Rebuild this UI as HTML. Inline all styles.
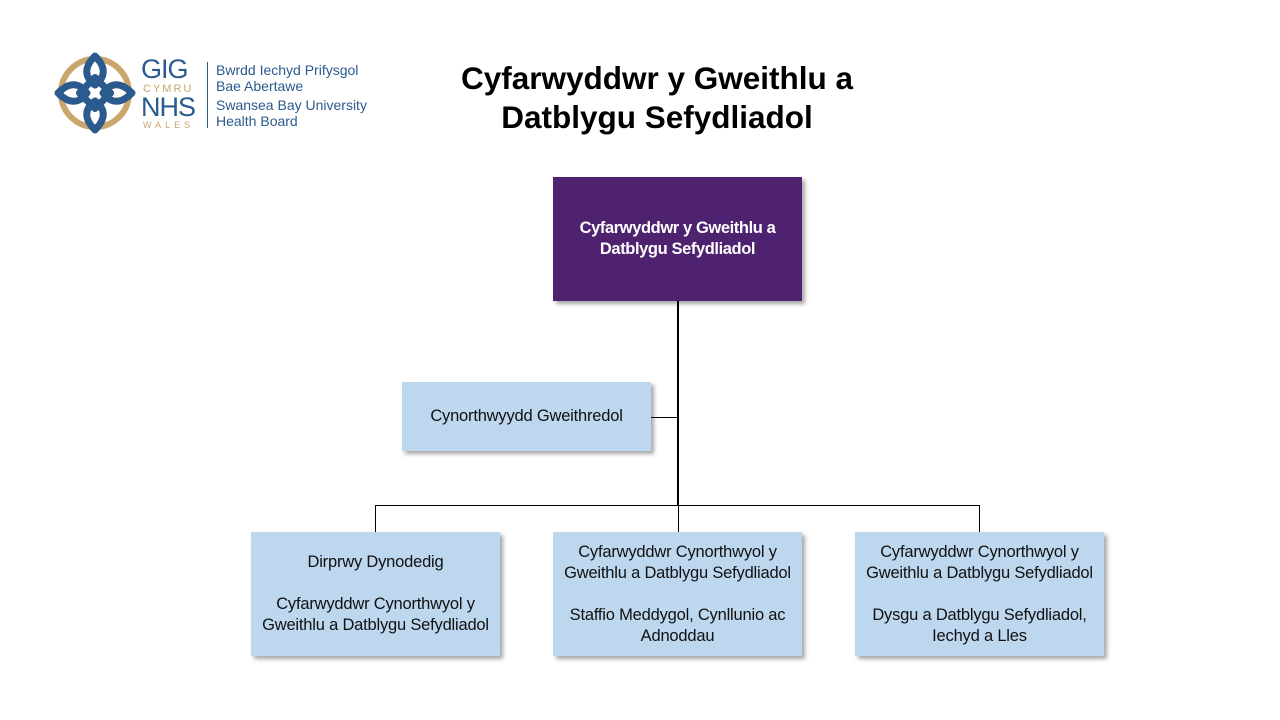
<!DOCTYPE html>
<html><head><meta charset="utf-8"><style>
body{margin:0;width:1280px;height:720px;background:#fff;position:relative;overflow:hidden;font-family:"Liberation Sans",Arial,sans-serif}
.b{position:absolute;display:flex;align-items:center;justify-content:center;text-align:center;box-shadow:3px 3px 4px rgba(0,0,0,.35);font-size:16.5px;line-height:21px;color:#111;letter-spacing:-0.2px}
.lb{background:#bdd7ee}
.l{position:absolute;background:#000}
.title{position:absolute;left:357px;width:600px;top:59px;text-align:center;font-weight:bold;font-size:31.5px;line-height:39px;color:#000}
</style></head><body>
<svg style="position:absolute;left:54px;top:52px" width="82" height="82" viewBox="0 0 82 82">
<circle cx="41" cy="41" r="34" fill="none" stroke="#c9a66b" stroke-width="6"/>
<g fill="none" stroke="#2b5a8e" stroke-width="7" stroke-linejoin="round">
<path d="M41 4 C30 15 30 25 41 33 C52 25 52 15 41 4Z"/>
<path d="M41 78 C30 67 30 57 41 49 C52 57 52 67 41 78Z"/>
<path d="M4 41 C15 30 25 30 33 41 C25 52 15 52 4 41Z"/>
<path d="M78 41 C67 30 57 30 49 41 C57 52 67 52 78 41Z"/>
<rect x="30" y="30" width="22" height="22" transform="rotate(45 41 41)"/>
</g></svg>
<div style="position:absolute;left:141px;top:56px;color:#2b5a8e;font-size:27px;line-height:27px;letter-spacing:-1px">GIG</div>
<div style="position:absolute;left:143px;top:83px;color:#c9a66b;font-size:11px;letter-spacing:2px">CYMRU</div>
<div style="position:absolute;left:141px;top:94px;color:#2b5a8e;font-size:27px;line-height:27px;letter-spacing:-1px">NHS</div>
<div style="position:absolute;left:143px;top:120px;color:#c9a66b;font-size:9px;letter-spacing:4px">WALES</div>
<div style="position:absolute;left:207px;top:62px;width:1px;height:66px;background:#2b5a8e"></div>
<div style="position:absolute;left:216px;top:62px;color:#2b5a8e;font-size:14px;line-height:16px">Bwrdd Iechyd Prifysgol<br>Bae Abertawe</div>
<div style="position:absolute;left:216px;top:97px;color:#2b5a8e;font-size:14px;line-height:16px">Swansea Bay University<br>Health Board</div>
<div class="title">Cyfarwyddwr y Gweithlu a<br>Datblygu Sefydliadol</div>

<div class="l" style="left:677px;top:301px;width:2px;height:205px"></div>
<div class="l" style="left:651px;top:417px;width:27px;height:1px"></div>
<div class="l" style="left:375px;top:505px;width:605px;height:1px"></div>
<div class="l" style="left:375px;top:505px;width:1px;height:27px"></div>
<div class="l" style="left:678px;top:505px;width:1px;height:27px"></div>
<div class="l" style="left:979px;top:505px;width:1px;height:27px"></div>

<div class="b" style="left:553px;top:177px;width:249px;height:124px;background:#4f2270;color:#fff;font-weight:bold;letter-spacing:-0.4px">Cyfarwyddwr y Gweithlu a<br>Datblygu Sefydliadol</div>
<div class="b lb" style="left:402px;top:382px;width:249px;height:69px">Cynorthwyydd Gweithredol</div>
<div class="b lb" style="left:251px;top:532px;width:249px;height:124px">Dirprwy Dynodedig<br><br>Cyfarwyddwr Cynorthwyol y<br>Gweithlu a Datblygu Sefydliadol</div>
<div class="b lb" style="left:553px;top:532px;width:249px;height:124px">Cyfarwyddwr Cynorthwyol y<br>Gweithlu a Datblygu Sefydliadol<br><br>Staffio Meddygol, Cynllunio ac<br>Adnoddau</div>
<div class="b lb" style="left:855px;top:532px;width:249px;height:124px">Cyfarwyddwr Cynorthwyol y<br>Gweithlu a Datblygu Sefydliadol<br><br>Dysgu a Datblygu Sefydliadol,<br>Iechyd a Lles</div>
</body></html>
